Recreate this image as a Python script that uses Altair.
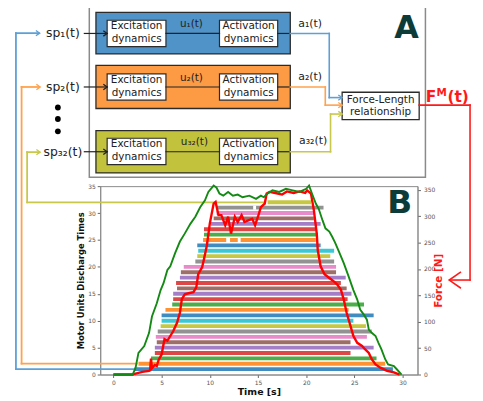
import altair as alt
import pandas as pd

# ---------------- Panel B data ----------------
mu_level = list(range(1, 33))
mu_color = ["#1f77b4", "#ff7f0e", "#2ca02c", "#d62728", "#9467bd", "#8c564b", "#e377c2", "#7f7f7f",
            "#bcbd22", "#17becf", "#1f77b4", "#ff7f0e", "#2ca02c", "#d62728", "#9467bd", "#8c564b",
            "#d62728", "#9467bd", "#8c564b", "#e377c2", "#7f7f7f", "#bcbd22", "#17becf", "#1f77b4",
            "#ff7f0e", "#2ca02c", "#d62728", "#9467bd", "#8c564b", "#e377c2", "#7f7f7f", "#bcbd22"]
mu_start = [2.2, 2.6, 3.9, 4.3, 4.3, 4.5, 4.4, 4.6, 4.9, 5.0, 5.0, 5.4, 6.1, 6.2, 6.2, 6.6,
            6.5, 6.9, 7.0, 7.3, 8.5, 8.7, 8.8, 8.7, 9.3, 9.4, 9.4, 10.1, 10.4, 10.7, 10.7, 16.0]
mu_end = [29.0, 28.2, 27.3, 24.6, 27.0, 24.6, 26.3, 26.8, 26.2, 24.9, 27.0, 24.4, 26.0, 24.3, 24.7, 24.2,
          23.6, 24.1, 23.1, 23.1, 22.9, 22.5, 22.9, 21.5, 21.0, 21.2, 21.0, 21.5, 20.8, 20.8, 21.8, 20.5]
gap_level = [25, 25, 31]
gap_start = [11.7, 12.9, 14.5]
gap_end = [12.1, 13.2, 14.8]

force_t = [0, 2.0, 2.1, 3.0, 3.7, 3.8, 3.9, 4.0, 4.3, 4.5, 4.7, 5.0, 5.3, 5.6, 5.9, 6.2, 6.6, 6.9, 7.1,
           7.4, 7.8, 8.3, 8.6, 8.8, 9.2, 9.4, 9.7, 10.0, 10.4, 10.6, 10.9, 11.2, 11.6, 11.9, 12.2, 12.6,
           12.9, 13.3, 13.6, 14.0, 14.4, 14.7, 15.0, 15.3, 15.7, 15.9, 16.2, 16.8, 17.5, 18.0, 18.7,
           19.3, 19.9, 20.1, 20.5, 20.8, 21.1, 21.2, 21.5, 21.9, 22.4, 22.9, 23.2, 23.6, 23.9, 24.2,
           24.6, 24.9, 25.3, 25.8, 26.1, 26.5, 26.8, 27.2, 27.7, 28.4, 29.1, 29.7]
force_n = [0, 0, 0.6, 5, 7, 8, 30, 12, 18, 16, 28, 38, 67, 64, 73, 82, 98, 117, 143,
           152, 154, 156, 165, 190, 203, 219, 245, 286, 324, 327, 302, 302, 283, 299, 267, 299,
           289, 302, 289, 292, 295, 283, 299, 317, 324, 343, 346, 344, 341, 347, 344,
           347, 344, 349, 343, 311, 267, 236, 205, 190, 183, 176, 171, 161, 142, 117,
           92, 73, 60, 54, 48, 41, 29, 19, 13, 7, 4, 0]

target_t = [0, 2.0, 2.3, 2.6, 3.2, 3.7, 4.0, 4.5, 4.9, 5.2, 5.6, 5.9, 6.4, 6.9, 7.4, 8.0, 8.5, 9.0,
            9.5, 9.85, 10.4, 10.7, 11.0, 11.4, 11.9, 12.4, 12.9, 13.4, 14.1, 14.8, 15.3, 15.6, 16.0,
            16.5, 17.2, 17.9, 18.6, 19.3, 20.0, 20.3, 20.6, 21.0, 21.3, 21.7, 22.0, 22.4, 22.7, 23.0,
            23.4, 23.9, 24.4, 24.9, 25.3, 25.6, 26.0, 26.3, 26.5, 26.8, 27.2, 27.5, 27.8, 28.2, 28.5,
            29.1, 29.4, 29.9]
target_n = [0, 0, 13, 41, 54, 79, 110, 135, 160, 173, 198, 205, 230, 252, 267, 286, 299, 317,
            330, 346, 358, 354, 343, 339, 346, 339, 341, 336, 339, 333, 339, 336, 343,
            349, 346, 352, 349, 346, 352, 358, 343, 324, 314, 292, 277, 271, 261, 250,
            233, 211, 186, 160, 142, 123, 113, 104, 85, 79, 73, 60, 48, 29, 19,
            16, 10, 0]

x_ticks = [0, 5, 10, 15, 20, 25, 30]
left_ticks = [0, 5, 10, 15, 20, 25, 30, 35]
right_ticks = [0, 50, 100, 150, 200, 250, 300, 350]

# ---------------- layout ----------------
PAD_L, PAD_T, PAD_R, PAD_B = 93, 178, 58, 20
OX, OY = 8 + PAD_L, 8 + PAD_T
W, H = 320, 190
FONT = "DejaVu Sans"

BLUE_F, ORANGE_F, OLIVE_F = "#4f93c8", "#fd9a44", "#c2c23d"
BLUE_L, ORANGE_L, OLIVE_L = "#5da0d6", "#ffa24d", "#c8c84a"
RED = "#ff1a1a"
DARK = "#0d3b38"

rows_c = [32, 86, 151.3]
rects = [
    (90, 4.7, 429, 177, "white", "#8a8a8a", 1.5),
    (96.7, 10.7, 292.7, 52.7, BLUE_F, "#2b2b2b", 1.3),
    (96.7, 64.3, 292.7, 107.7, ORANGE_F, "#2b2b2b", 1.3),
    (96.7, 130, 292.7, 172.7, OLIVE_F, "#2b2b2b", 1.3),
    (345, 91.3, 422.7, 119, "white", "#2b2b2b", 1.3),
]
for off in [0, 54, 119]:
    rects.append((108, 18.7 + off, 167.3, 45.3 + off, "white", "#2b2b2b", 1.2))
    rects.append((221.3, 18.7 + off, 280, 45.3 + off, "white", "#2b2b2b", 1.2))

segs = []
for c in rows_c:
    segs += [(85, c, 108, c, "#222222", 1.2), (167.3, c, 221.3, c, "#222222", 1.2),
             (280, c, 292.7, c, "#222222", 1.2)]
segs += [
    (292.7, 32, 332, 32, BLUE_L, 1.6), (332, 32, 332, 96.7, BLUE_L, 1.6), (332, 96.7, 344.5, 96.7, BLUE_L, 1.6),
    (292.7, 86, 328, 86, ORANGE_L, 1.6), (328, 86, 328, 104.3, ORANGE_L, 1.6), (328, 104.3, 344.5, 104.3, ORANGE_L, 1.6),
    (292.7, 151.3, 333.3, 151.3, OLIVE_L, 1.6), (333.3, 151.3, 333.3, 113.3, OLIVE_L, 1.6),
    (333.3, 113.3, 344.5, 113.3, OLIVE_L, 1.6),
    (422.7, 104.3, 474, 104.3, RED, 1.6), (474, 104.3, 474, 280.7, RED, 1.6), (474, 280.7, 453.5, 280.7, RED, 1.6),
    (16, 31.7, 39, 31.7, BLUE_L, 1.8), (16, 31.7, 16, 370.6, BLUE_L, 1.8), (16, 370.6, 136, 370.6, BLUE_L, 1.8),
    (21.7, 86, 39.5, 86, ORANGE_L, 1.8), (21.7, 86, 21.7, 365.1, ORANGE_L, 1.8), (21.7, 365.1, 138, 365.1, ORANGE_L, 1.8),
    (27.3, 151.7, 39.5, 151.7, OLIVE_L, 1.8), (27.3, 151.7, 27.3, 202.3, OLIVE_L, 1.8),
    (27.3, 202.3, 266, 202.3, OLIVE_L, 1.8),
]

heads = [(108, c, "#222222", 0, 60) for c in rows_c]
heads += [(40, 31.7, BLUE_L, 0, 60), (40.5, 86, ORANGE_L, 0, 60), (40.5, 151.7, OLIVE_L, 0, 60),
          (345, 96.7, BLUE_L, 0, 60), (345, 104.3, ORANGE_L, 0, 60), (345, 113.3, OLIVE_L, 0, 60)]
big_head = [(453, 280.7, RED, 180, 560)]

dots = [(58.3, 106.7), (58.3, 118.3), (58.3, 130.7)]

texts = [
    (63.3, 31.7, "sp\u2081(t)", 12.5, "#222222"),
    (63.3, 86, "sp\u2082(t)", 12.5, "#222222"),
    (63.3, 151.7, "sp\u2083\u2082(t)", 12.5, "#222222"),
    (193, 22.7, "u\u2081(t)", 10.5, "#222222"),
    (193, 76.7, "u\u2082(t)", 10.5, "#222222"),
    (196, 141.5, "u\u2083\u2082(t)", 10.5, "#222222"),
    (312.7, 22, "a\u2081(t)", 11, "#222222"),
    (312.7, 76, "a\u2082(t)", 11, "#222222"),
    (315.7, 141, "a\u2083\u2082(t)", 11, "#222222"),
    (383.8, 98.7, "Force-Length", 10.5, "#222222"),
    (383.8, 111, "relationship", 10.5, "#222222"),
]
for off in [0, 54, 119]:
    texts += [(137.7, 25 + off, "Excitation", 10.5, "#222222"), (137.7, 38 + off, "dynamics", 10.5, "#222222"),
              (250.7, 25 + off, "Activation", 10.5, "#222222"), (250.7, 38 + off, "dynamics", 10.5, "#222222")]
bold_texts = [
    (434.7, 96.2, "F", 15.5, RED),
    (445.5, 92, "M", 10.5, RED),
    (462, 95.7, "(t)", 15.5, RED),
    (410, 26.7, "A", 32, DARK),
    (403, 203.3, "B", 33, DARK),
]

rect_df = pd.DataFrame(rects, columns=["x", "y", "x2", "y2", "fill", "stroke", "sw"])
seg_df = pd.DataFrame(segs, columns=["x", "y", "x2", "y2", "color", "sw"])
head_df = pd.DataFrame(heads, columns=["x", "y", "color", "angle", "size"])
bighead_df = pd.DataFrame(big_head, columns=["x", "y", "color", "angle", "size"])
dot_df = pd.DataFrame(dots, columns=["x", "y"])
text_df = pd.DataFrame(texts, columns=["x", "y", "text", "size", "color"])
btext_df = pd.DataFrame(bold_texts, columns=["x", "y", "text", "size", "color"])
for d in [rect_df, seg_df, head_df, bighead_df, dot_df, text_df, btext_df]:
    d["x"] = d["x"] - OX
    d["y"] = d["y"] - OY
    if "x2" in d:
        d["x2"] = d["x2"] - OX
        d["y2"] = d["y2"] - OY


def px(field):
    return alt.X(f"{field}:Q", scale=None, axis=None)


def py(field):
    return alt.Y(f"{field}:Q", scale=None, axis=None)


rect_layer = alt.Chart(rect_df).mark_rect().encode(
    x=px("x"), x2="x2", y=py("y"), y2="y2",
    fill=alt.Fill("fill:N", scale=None), stroke=alt.Stroke("stroke:N", scale=None),
    strokeWidth=alt.StrokeWidth("sw:Q", scale=None))

seg_layer = alt.Chart(seg_df).mark_rule(strokeCap="square").encode(
    x=px("x"), x2="x2", y=py("y"), y2="y2",
    color=alt.Color("color:N", scale=None), strokeWidth=alt.StrokeWidth("sw:Q", scale=None))

chevron = "M-1,-0.7L0,0L-1,0.7"
head_layer = alt.Chart(head_df).mark_point(shape=chevron, filled=False, strokeWidth=1.3, opacity=1).encode(
    x=px("x"), y=py("y"), color=alt.Color("color:N", scale=None),
    angle=alt.Angle("angle:Q", scale=None), size=alt.Size("size:Q", scale=None))
bighead_layer = alt.Chart(bighead_df).mark_point(shape=chevron, filled=False, strokeWidth=1.6, opacity=1).encode(
    x=px("x"), y=py("y"), color=alt.Color("color:N", scale=None),
    angle=alt.Angle("angle:Q", scale=None), size=alt.Size("size:Q", scale=None))

dot_layer = alt.Chart(dot_df).mark_circle(size=34, color="black", opacity=1).encode(x=px("x"), y=py("y"))

text_layer = alt.Chart(text_df).mark_text(font=FONT, align="center", baseline="middle").encode(
    x=px("x"), y=py("y"), text="text:N",
    size=alt.Size("size:Q", scale=None), color=alt.Color("color:N", scale=None))
btext_layer = alt.Chart(btext_df).mark_text(font=FONT, fontWeight="bold", align="center", baseline="middle").encode(
    x=px("x"), y=py("y"), text="text:N",
    size=alt.Size("size:Q", scale=None), color=alt.Color("color:N", scale=None))

# ---------------- Panel B ----------------
xs = alt.Scale(domain=[-1.37, 31.55], nice=False, zero=False)
ys_left = alt.Scale(domain=[0, 35], nice=False)
ys_right = alt.Scale(domain=[0, 357], nice=False)

mu_df = pd.DataFrame({"level": mu_level, "start": mu_start, "end": mu_end, "color": mu_color})
gap_df = pd.DataFrame({"level": gap_level, "start": gap_start, "end": gap_end})

axis_common = dict(labelFont=FONT, labelFontSize=6, labelColor="#555555", tickColor="#666666",
                   tickSize=3, domainColor="#8c8c8c", grid=False, titleFont=FONT, titleFontWeight="bold")

bars = alt.Chart(mu_df).mark_rule(strokeWidth=3.9, opacity=0.85).encode(
    x=alt.X("start:Q", scale=xs, axis=alt.Axis(values=x_ticks, title="Time [s]", titleFontSize=9.5,
                                              titleColor="#111111", titlePadding=1, labelPadding=2, **axis_common)),
    x2="end:Q",
    y=alt.Y("level:Q", scale=ys_left, axis=alt.Axis(values=left_ticks, title="Motor Units Discharge Times",
                                                  titleFontSize=8.5, titleColor="#111111", titlePadding=2,
                                                  labelPadding=2, **axis_common)),
    color=alt.Color("color:N", scale=None))

gaps = alt.Chart(gap_df).mark_rule(strokeWidth=4.1, color="white").encode(
    x=alt.X("start:Q", scale=xs), x2="end:Q", y=alt.Y("level:Q", scale=ys_left, axis=None))

curve_df = pd.concat([
    pd.DataFrame({"t": force_t, "force": force_n, "series": "force", "col": "#ff0000", "w": 2.4,
                  "idx": range(len(force_t))}),
    pd.DataFrame({"t": target_t, "force": target_n, "series": "target", "col": "#138a13", "w": 1.9,
                  "idx": range(len(target_t))}),
])
curves = alt.Chart(curve_df).mark_line().encode(
    x=alt.X("t:Q", scale=xs),
    y=alt.Y("force:Q", scale=ys_right,
            axis=alt.Axis(orient="right", values=right_ticks, title="Force [N]", titleColor=RED,
                          titleFontSize=10.5, titleAngle=270, titlePadding=9, labelPadding=3, **axis_common)),
    color=alt.Color("col:N", scale=None),
    strokeWidth=alt.StrokeWidth("w:Q", scale=None),
    detail="series:N", order="idx:Q")

chart = alt.layer(
    rect_layer, seg_layer, head_layer, bighead_layer, dot_layer, text_layer, btext_layer,
    bars, gaps, curves,
).resolve_scale(y="independent").properties(
    width=W, height=H,
    padding={"left": PAD_L, "top": PAD_T, "right": PAD_R, "bottom": PAD_B},
    autosize=alt.AutoSizeParams(type="none"),
).configure_view(stroke="#8c8c8c", strokeWidth=1)

chart.save("out.html", embed_options={"renderer": "svg", "actions": False})
